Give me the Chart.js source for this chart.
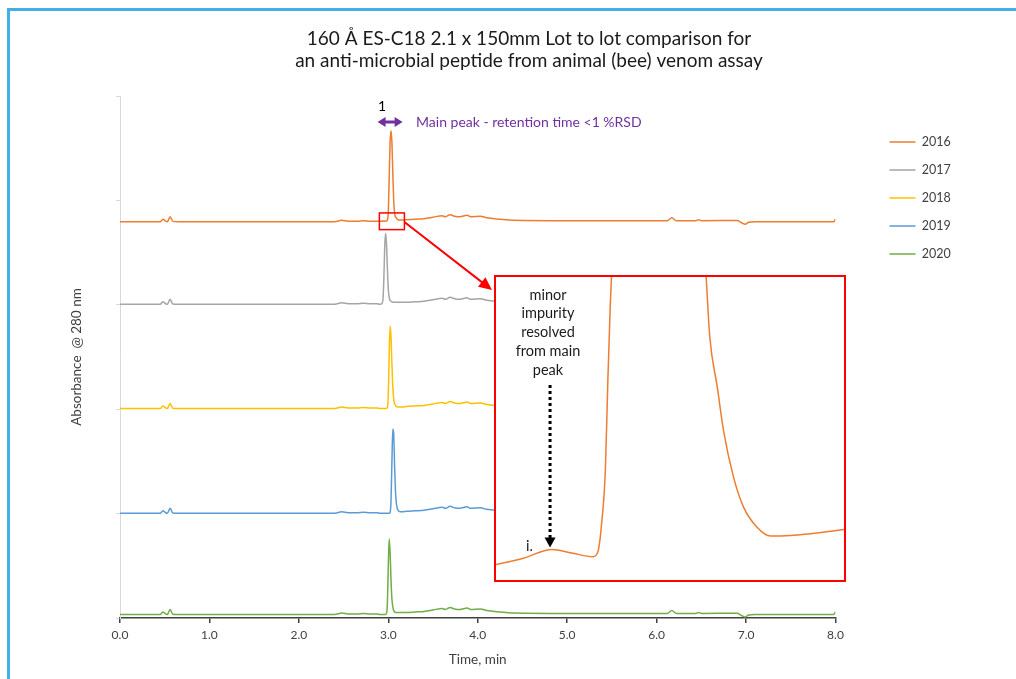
<!DOCTYPE html>
<html>
<head>
<meta charset="utf-8">
<title>160 Å ES-C18 lot to lot comparison</title>
<script src="https://cdn.jsdelivr.net/npm/chart.js@4.4.1/dist/chart.umd.min.js"></script>
<style>
  html, body { margin: 0; padding: 0; background: #fff; overflow: hidden; }
  #wrap { position: relative; width: 1016px; height: 679px; overflow: hidden; }
  #frame { position: absolute; left: 7px; top: 8px; width: 1100px; height: 800px;
           border-left: 3px solid #41b0e4; border-top: 3px solid #41b0e4; }
  #main { position: absolute; left: 0; top: 0; }
  #insetBox { position: absolute; left: 494px; top: 275px; width: 348px; height: 303px;
              border: 2px solid #ff0000; background: #fff; }
  #inset { display: block; }
</style>
</head>
<body>
<div id="wrap">
  <div id="frame"></div>
  <canvas id="main" width="1016" height="679"></canvas>
  <div id="insetBox"><canvas id="inset" width="348" height="303"></canvas></div>
</div>
<script>
/* DATOS */
const years = ['2016', '2017', '2018', '2019', '2020'];
const colores = ['#ED7D31', '#A5A5A5', '#FFC000', '#5B9BD5', '#70AD47'];
const tickLabels = ['0.0', '1.0', '2.0', '3.0', '4.0', '5.0', '6.0', '7.0', '8.0'];

// tiempo (min), comun a las 5 trazas
const timeMin = [
  0.00, 0.30, 0.45, 0.48, 0.51, 0.53, 0.56, 0.59, 0.65, 1.50, 2.40, 2.48, 2.55, 2.65, 2.72, 2.80, 2.88,
  2.90, 2.91, 2.92, 2.93, 2.94, 2.95, 2.96, 2.97, 2.98, 2.99,
  3.00, 3.01, 3.02, 3.03, 3.04, 3.05, 3.06, 3.07, 3.08, 3.09,
  3.10, 3.11, 3.12, 3.13, 3.14, 3.15, 3.16,
  3.20, 3.30, 3.40, 3.50, 3.60, 3.64, 3.69, 3.74, 3.80, 3.88, 3.92, 4.03, 4.10, 4.25, 4.40, 5.00,
  5.80, 6.12, 6.17, 6.22, 6.44, 6.47, 6.50, 6.90, 6.95, 6.99, 7.03, 7.10, 7.50, 7.98, 8.00
];

const abs2016 = [
  3.796, 3.796, 3.796, 3.820, 3.801, 3.796, 3.844, 3.799, 3.796, 3.796, 3.796, 3.810, 3.801, 3.801, 3.806, 3.801, 3.801,
  3.801, 3.801, 3.801, 3.801, 3.804, 3.802, 3.801, 3.801, 3.804, 3.815,
  3.892, 4.227, 4.562, 4.668, 4.562, 4.275, 4.007, 3.882, 3.844, 3.830,
  3.820, 3.815, 3.813, 3.813, 3.813, 3.813, 3.813,
  3.815, 3.820, 3.825, 3.839, 3.853, 3.844, 3.863, 3.849, 3.844, 3.858, 3.844, 3.849, 3.834, 3.820, 3.810, 3.806,
  3.806, 3.806, 3.834, 3.806, 3.806, 3.815, 3.806, 3.807, 3.786, 3.772, 3.791, 3.796, 3.796, 3.796, 3.820
];
const abs2017 = [
  3.005, 3.005, 3.005, 3.029, 3.010, 3.005, 3.053, 3.008, 3.005, 3.005, 3.005, 3.019, 3.010, 3.010, 3.015, 3.010, 3.010,
  3.005, 3.005, 3.008, 3.015, 3.053, 3.244, 3.561, 3.685, 3.580, 3.340,
  3.149, 3.072, 3.043, 3.034, 3.029, 3.024, 3.024, 3.024, 3.024, 3.024,
  3.024, 3.024, 3.024, 3.024, 3.024, 3.024, 3.024,
  3.024, 3.029, 3.034, 3.048, 3.062, 3.053, 3.072, 3.058, 3.053, 3.067, 3.053, 3.058, 3.043, 3.029, 3.019, 3.015,
  3.015, 3.015, 3.043, 3.015, 3.015, 3.024, 3.015, 3.016, 2.995, 2.981, 3.000, 3.005, 3.005, 3.005, 3.029
];
const abs2018 = [
  2.007, 2.007, 2.007, 2.031, 2.012, 2.007, 2.055, 2.010, 2.007, 2.007, 2.007, 2.021, 2.012, 2.012, 2.017, 2.012, 2.012,
  2.007, 2.007, 2.007, 2.007, 2.007, 2.007, 2.007, 2.007, 2.010, 2.017,
  2.151, 2.534, 2.797, 2.697, 2.438, 2.218, 2.103, 2.055, 2.036, 2.026,
  2.021, 2.021, 2.021, 2.021, 2.021, 2.021, 2.021,
  2.026, 2.031, 2.036, 2.050, 2.064, 2.055, 2.074, 2.060, 2.055, 2.069, 2.055, 2.060, 2.045, 2.031, 2.021, 2.017,
  2.017, 2.017, 2.045, 2.017, 2.017, 2.026, 2.017, 2.018, 1.997, 1.983, 2.002, 2.007, 2.007, 2.007, 2.031
];
const abs2019 = [
  1.003, 1.003, 1.003, 1.027, 1.008, 1.003, 1.051, 1.006, 1.003, 1.003, 1.003, 1.017, 1.008, 1.008, 1.013, 1.008, 1.008,
  1.003, 1.003, 1.003, 1.003, 1.003, 1.003, 1.003, 1.003, 1.003, 1.003,
  1.003, 1.003, 1.013, 1.118, 1.482, 1.808, 1.769, 1.463, 1.214, 1.099,
  1.051, 1.032, 1.022, 1.017, 1.017, 1.017, 1.017,
  1.022, 1.027, 1.032, 1.046, 1.060, 1.051, 1.070, 1.056, 1.051, 1.065, 1.051, 1.056, 1.041, 1.027, 1.017, 1.013,
  1.013, 1.013, 1.041, 1.013, 1.013, 1.022, 1.013, 1.014, 0.993, 0.979, 0.998, 1.003, 1.003, 1.003, 1.027
];
const abs2020 = [
  0.034, 0.034, 0.034, 0.058, 0.039, 0.034, 0.082, 0.037, 0.034, 0.034, 0.034, 0.048, 0.039, 0.039, 0.044, 0.039, 0.039,
  0.034, 0.034, 0.034, 0.034, 0.034, 0.034, 0.034, 0.034, 0.044, 0.149,
  0.513, 0.757, 0.628, 0.369, 0.187, 0.111, 0.072, 0.058, 0.053, 0.053,
  0.053, 0.053, 0.053, 0.053, 0.053, 0.053, 0.053,
  0.053, 0.058, 0.063, 0.077, 0.091, 0.082, 0.101, 0.087, 0.082, 0.096, 0.082, 0.087, 0.072, 0.058, 0.048, 0.044,
  0.044, 0.044, 0.072, 0.044, 0.044, 0.053, 0.044, 0.045, 0.024, 0.010, 0.029, 0.034, 0.034, 0.034, 0.058
];

// ventana ampliada (lote 2016, alrededor del pico principal)
const insetWindow = [2.90, 3.18];
const insetAbsWindow = [3.72, 3.88];
const insetTime = [
  2.899, 2.922, 2.945, 2.962, 2.978, 2.982, 2.985, 2.988, 2.990, 2.992,
  2.993, 2.997, 3.000, 3.030, 3.060, 3.069, 3.072, 3.078, 3.083, 3.091,
  3.099, 3.110, 3.121, 3.137, 3.153, 3.166, 3.180
];
const insetSignal = [
  5.0, 7.2, 10.1, 8.8, 7.7, 9.3, 18.7, 36.3, 66.0, 91.3,
  100.7, 140, 200, 700, 160, 100.7, 80.3, 63.8, 49.5, 34.1,
  24.2, 17.4, 14.5, 14.7, 15.3, 15.9, 16.7
];

const series = [abs2016, abs2017, abs2018, abs2019, abs2020];
const FONT = 'Lato, "Open Sans", sans-serif';
Chart.defaults.font.family = FONT;
Chart.defaults.color = '#404040';

function flecha(ctx, x1, y1, x2, y2, len, half) {
  const ang = Math.atan2(y2 - y1, x2 - x1);
  ctx.beginPath();
  ctx.moveTo(x2, y2);
  ctx.lineTo(x2 - len * Math.cos(ang) + half * Math.sin(ang), y2 - len * Math.sin(ang) - half * Math.cos(ang));
  ctx.lineTo(x2 - len * Math.cos(ang) - half * Math.sin(ang), y2 - len * Math.sin(ang) + half * Math.cos(ang));
  ctx.closePath();
  ctx.fill();
}

/* ANOTACIONES GRAFICA PRINCIPAL */
const notasPrincipal = {
  id: 'notasPrincipal',
  afterDatasetsDraw(chart) {
    const { ctx, chartArea, scales: { x, y } } = chart;
    ctx.save();

    // recuadro de zoom
    const bx1 = x.getPixelForValue(insetWindow[0]);
    const bx2 = x.getPixelForValue(insetWindow[1]);
    const by1 = y.getPixelForValue(insetAbsWindow[1]);
    const by2 = y.getPixelForValue(insetAbsWindow[0]);
    ctx.strokeStyle = '#ff0000';
    ctx.lineWidth = 1.5;
    ctx.strokeRect(bx1, by1, bx2 - bx1, by2 - by1);

    // flecha hacia el recuadro ampliado
    const box = document.getElementById('insetBox');
    const tx = box.offsetLeft - 2, ty = box.offsetTop + 15;
    const sx = bx2, sy = by1 + 9;
    const ang = Math.atan2(ty - sy, tx - sx);
    ctx.fillStyle = '#ff0000';
    ctx.lineWidth = 2;
    ctx.beginPath();
    ctx.moveTo(sx, sy);
    ctx.lineTo(tx - 10 * Math.cos(ang), ty - 10 * Math.sin(ang));
    ctx.stroke();
    flecha(ctx, sx, sy, tx, ty, 13, 6);

    // pico 1
    const top = chartArea.top;
    ctx.fillStyle = '#000';
    ctx.font = '14px ' + FONT;
    ctx.textAlign = 'center';
    ctx.textBaseline = 'middle';
    ctx.fillText('1', x.getPixelForValue(2.93), top + 10);

    // doble flecha morada
    const ax1 = x.getPixelForValue(2.88), ax2 = x.getPixelForValue(3.16), ay = top + 26;
    ctx.strokeStyle = '#7030A0';
    ctx.fillStyle = '#7030A0';
    ctx.lineWidth = 3;
    ctx.beginPath();
    ctx.moveTo(ax1 + 6, ay);
    ctx.lineTo(ax2 - 6, ay);
    ctx.stroke();
    flecha(ctx, ax2, ay, ax1, ay, 8, 5);
    flecha(ctx, ax1, ay, ax2, ay, 8, 5);

    ctx.textAlign = 'left';
    ctx.fillText('Main peak - retention time <1 %RSD', x.getPixelForValue(3.31), ay);
    ctx.restore();
  }
};

/* GRAFICA PRINCIPAL */
new Chart(document.getElementById('main'), {
  type: 'line',
  data: {
    datasets: years.map((yr, i) => ({
      label: yr,
      data: timeMin.map((t, j) => ({ x: t, y: series[i][j] })),
      borderColor: colores[i],
      backgroundColor: colores[i],
      borderWidth: 1.5,
      pointRadius: 0,
      cubicInterpolationMode: 'monotone',
      fill: false,
    })),
  },
  options: {
    responsive: false,
    animation: false,
    layout: { padding: { left: 97.25, right: 55.25, top: 0, bottom: 0 } },
    plugins: {
      title: {
        display: true,
        text: ['160 Å ES-C18 2.1 x 150mm Lot to lot comparison for',
               'an anti-microbial peptide from animal (bee) venom assay'],
        color: '#1a1a1a',
        font: { size: 19, weight: 'normal', lineHeight: '22px' },
        padding: { top: 28, bottom: 24 },
      },
      legend: {
        position: 'right',
        align: 'start',
        title: { display: true, text: '', padding: { top: 108.25, bottom: 0 }, font: { size: 10 } },
        labels: {
          usePointStyle: true,
          pointStyle: 'line',
          pointStyleWidth: 26,
          padding: 15.5,
          color: '#404040',
          font: { size: 12.5 },
        },
      },
      tooltip: { enabled: false },
    },
    scales: {
      x: {
        type: 'linear',
        min: 0,
        max: 8,
        afterFit: (s) => { s.height = 61; },
        grid: { drawOnChartArea: false, tickLength: 5, color: '#404040', lineWidth: 1.5 },
        border: { color: '#404040', width: 1.5 },
        ticks: {
          stepSize: 1,
          padding: 5,
          color: '#404040',
          font: { size: 12 },
          maxRotation: 0,
          callback: (v) => tickLabels[Math.round(v)],
        },
        title: {
          display: true,
          text: 'Time, min',
          color: '#404040',
          font: { size: 13.5 },
          padding: { top: 0, bottom: 11 },
        },
      },
      y: {
        min: 0,
        max: 5,
        afterFit: (s) => { s.width = 22.75; },
        grid: { drawOnChartArea: false, tickLength: 4, color: '#d9d9d9' },
        border: { color: '#d9d9d9', width: 1 },
        ticks: { stepSize: 1, display: false },
        title: {
          display: true,
          text: 'Absorbance  @ 280 nm',
          color: '#404040',
          font: { size: 13.5 },
          padding: { top: -28.35, bottom: 0 },
        },
      },
      hueco: {
        type: 'linear',
        position: 'right',
        afterFit: (s) => { s.width = 38.5; },
        grid: { display: false },
        border: { display: false },
        ticks: { display: false },
      },
    },
  },
  plugins: [notasPrincipal],
});

/* ANOTACIONES DEL RECUADRO */
const notasInset = {
  id: 'notasInset',
  afterDatasetsDraw(chart) {
    const { ctx, scales: { x, y } } = chart;
    ctx.save();
    ctx.fillStyle = '#1a1a1a';
    ctx.font = '14.5px ' + FONT;
    ctx.textAlign = 'center';
    ctx.textBaseline = 'middle';
    ['minor', 'impurity', 'resolved', 'from main', 'peak'].forEach((l, i) => {
      ctx.fillText(l, 52, 18 + i * 18.8);
    });

    const px = x.getPixelForValue(2.9435);
    const tipY = y.getPixelForValue(10.1) - 2;
    ctx.strokeStyle = '#000';
    ctx.fillStyle = '#000';
    ctx.lineWidth = 3;
    ctx.setLineDash([3, 3]);
    ctx.beginPath();
    ctx.moveTo(px, 108);
    ctx.lineTo(px, tipY - 8);
    ctx.stroke();
    ctx.setLineDash([]);
    flecha(ctx, px, 108, px, tipY, 10, 5.5);

    ctx.fillStyle = '#1a1a1a';
    ctx.fillText('i.', 33.5, 269.5);
    ctx.restore();
  }
};

/* GRAFICA AMPLIADA */
new Chart(document.getElementById('inset'), {
  type: 'line',
  data: {
    datasets: [{
      label: '2016',
      data: insetTime.map((t, j) => ({ x: t, y: insetSignal[j] })),
      borderColor: colores[0],
      borderWidth: 1.5,
      pointRadius: 0,
      cubicInterpolationMode: 'monotone',
      fill: false,
    }],
  },
  options: {
    responsive: false,
    animation: false,
    layout: { padding: 0 },
    plugins: { legend: { display: false }, title: { display: false }, tooltip: { enabled: false } },
    scales: {
      x: { type: 'linear', display: false, min: insetWindow[0], max: insetWindow[1] },
      y: { display: false, min: 0, max: 100 },
    },
  },
  plugins: [notasInset],
});
</script>
</body>
</html>
